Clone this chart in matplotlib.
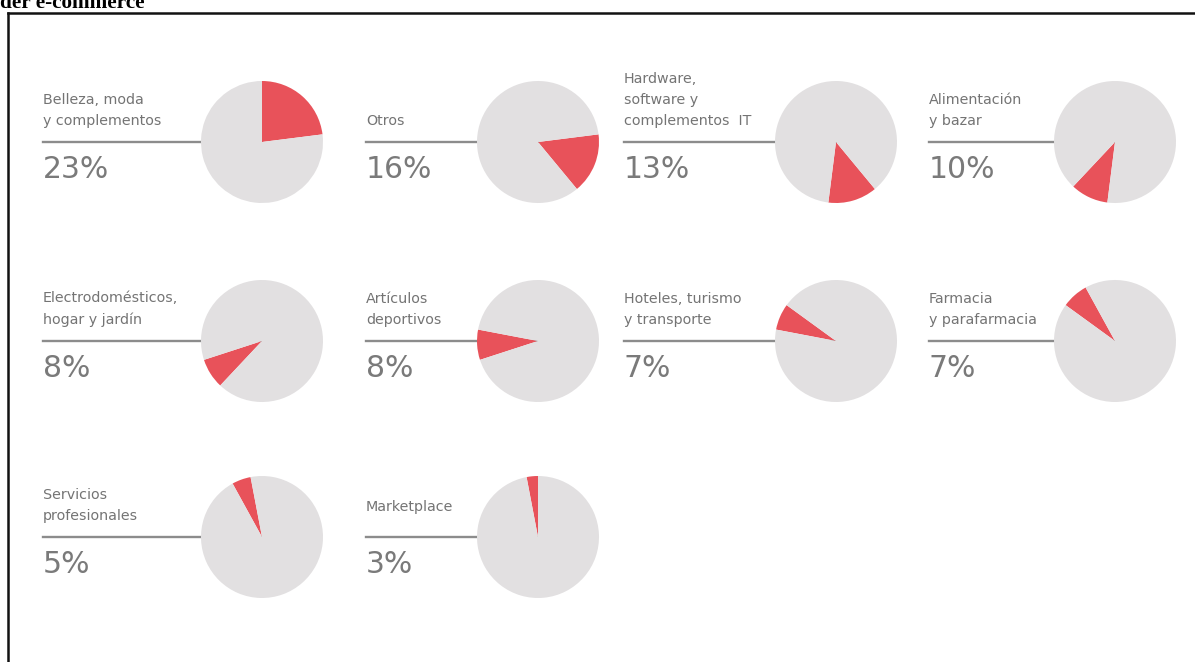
import matplotlib
matplotlib.use("Agg")
import matplotlib.pyplot as plt
from matplotlib.lines import Line2D

# Share of e-commerce by sector (%)
categories = [
    "Belleza, moda\ny complementos",
    "Otros",
    "Hardware,\nsoftware y\ncomplementos  IT",
    "Alimentación\ny bazar",
    "Electrodomésticos,\nhogar y jardín",
    "Artículos\ndeportivos",
    "Hoteles, turismo\ny transporte",
    "Farmacia\ny parafarmacia",
    "Servicios\nprofesionales",
    "Marketplace",
]
shares = [23, 16, 13, 10, 8, 8, 7, 7, 5, 3]
pct_labels = [f"{v}%" for v in shares]

W, H = 1195, 662
RED = "#e8525a"
GREY_PIE = "#e2e0e1"
TEXT = "#747474"
PCT = "#7a7a7a"
RULE = "#8c8c8c"

# layout in pixel units (top-left origin)
label_x = [43, 366, 624, 929]
pie_cx = [262, 538, 836, 1115]
row_cy = [142, 341, 537]
pie_r = 61
label_lift = {"Marketplace": 9}

fig = plt.figure(figsize=(W / 100, H / 100), dpi=100)
ax = fig.add_axes([0, 0, 1, 1])

cum = 0
for i, (name, share, pl) in enumerate(zip(categories, shares, pct_labels)):
    row, col = divmod(i, 4)
    cx, cy = pie_cx[col], H - row_cy[row]
    lx = label_x[col]
    # each slice continues where the previous sector ended
    ax.pie([share, 100 - share], colors=[RED, GREY_PIE], startangle=90 - 3.6 * cum,
           counterclock=False, center=(cx, cy), radius=pie_r,
           wedgeprops=dict(linewidth=0, zorder=3))
    cum += share
    ax.add_line(Line2D([lx, cx], [cy, cy], color=RULE, lw=1.7, zorder=1))
    ax.text(lx, cy + 14 + label_lift.get(name, 0), name, ha="left", va="bottom",
            fontsize=10.3, color=TEXT, family="DejaVu Sans", linespacing=1.62, zorder=4)
    ax.text(lx, cy - 13, pl, ha="left", va="top", fontsize=21.5, color=PCT,
            family="DejaVu Sans", zorder=4)

# outer frame (open at right and bottom edges of the canvas)
ax.add_line(Line2D([8, W + 5], [H - 13, H - 13], color="#111111", lw=1.8, zorder=5))
ax.add_line(Line2D([8, 8], [H - 13, -5], color="#111111", lw=1.8, zorder=5))

ax.text(0, H - 8, "der e-commerce", ha="left", va="baseline", fontsize=15.3,
        fontweight="bold", family="Liberation Serif", color="black")

ax.set_xlim(0, W)
ax.set_ylim(0, H)
ax.set_aspect("equal")
ax.axis("off")

fig.savefig("out.png", dpi=100, facecolor="white")
